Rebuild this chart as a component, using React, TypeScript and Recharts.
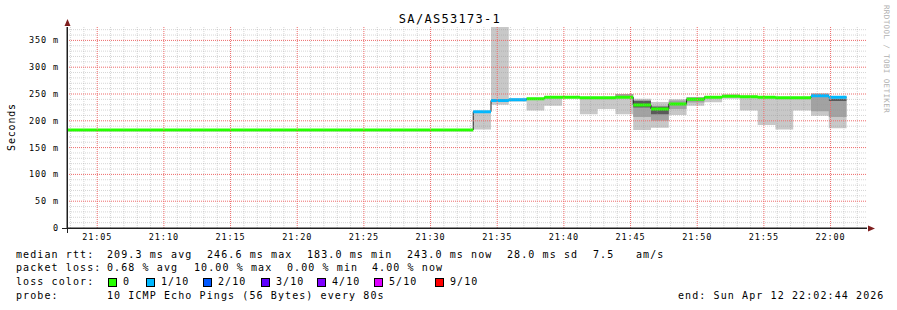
import React from "react";
import { ComposedChart, Area, Line, XAxis, YAxis, ReferenceLine } from "recharts";

// one step per 80 s probe round; first entry is the flat stretch before 21:33
const stepTimes = [
  "21:02:44", "21:33:12", "21:34:32", "21:35:52", "21:37:12", "21:38:32",
  "21:39:52", "21:41:12", "21:42:32", "21:43:52", "21:45:12", "21:46:32",
  "21:47:52", "21:49:12", "21:50:32", "21:51:52", "21:53:12", "21:54:32",
  "21:55:52", "21:57:12", "21:58:32", "21:59:52", "22:01:12",
];
const medianMs = [
  183.0, 217, 238, 239.5, 241, 244, 244, 243, 243, 244, 229.5,
  222, 231.5, 240, 244, 246, 245, 244, 243, 243, 246.6, 244,
];
const lostPings = [0, 1, 1, 1, 0, 0, 0, 0, 0, 0, 0, 0, 0, 0, 0, 0, 0, 0, 0, 0, 1, 1];
type Band = [number, number] | null;
const smokeOuter: Band[] = [
  null, [184, 217], [230, 375], [236, 242], [219, 243], [228, 246], [242, 246],
  [212, 245], [222, 245], [212, 250], [183, 241], [187, 235], [211, 240],
  [228, 244.5], [234.6, 246], [241, 249.5], [219, 247], [192, 246], [184, 245],
  [219, 245], [209.6, 251], [186, 244],
];
const smokeMid: Band[] = [
  null, null, null, null, null, null, null, null, null, [244, 250], [207, 239],
  [200, 228], [222, 238], [234, 244], null, null, null, null, null, null,
  [218, 251], [207, 237],
];
const smokeDark: Band[] = [
  null, null, null, null, null, null, null, null, null, null, [225, 237],
  [212, 226], null, null, null, null, null, null, null, null, null, [237, 241],
];

const xTickLabels = ["21:05", "21:10", "21:15", "21:20", "21:25", "21:30", "21:35", "21:40", "21:45", "21:50", "21:55", "22:00"];
const yTicks = [0, 50, 100, 150, 200, 250, 300, 350];
const lossLevels = [0, 1, 2, 3, 4, 5, 9];
const lossLabels = ["0", "1/10", "2/10", "3/10", "4/10", "5/10", "9/10"];
const lossColors = ["#26ff00", "#00b8ff", "#0059ff", "#5e00ff", "#7e00ff", "#dd00ff", "#ff0000"];

const toSec = (s: string) => {
  const [h, m, sec] = s.split(":").map(Number);
  return (h - 21) * 3600 + m * 60 + (sec || 0);
};
const fmt = (v: number) => {
  const h = 21 + Math.floor(v / 3600);
  const m = Math.floor((v % 3600) / 60);
  return `${h}:${String(m).padStart(2, "0")}`;
};

const T0 = toSec("21:02:44");
const T1 = T0 + 3600;
const xTicks = xTickLabels.map((l) => toSec(l));
const minorX: number[] = [];
for (let t = 180; t < T1; t += 60) if (t % 300) minorX.push(t);
const minorY: number[] = [];
for (let v = 10; v < 375; v += 10) if (v % 50) minorY.push(v);

const rows: any[] = [];
medianMs.forEach((m, i) => {
  const t0 = toSec(stepTimes[i]);
  const t1 = toSec(stepTimes[i + 1]);
  const base: any = { med: m, outer: smokeOuter[i], mid: smokeMid[i], dark: smokeDark[i] };
  const gap: any = { t: t1, med: m, outer: null, mid: null, dark: null };
  lossLevels.forEach((l) => {
    base["c" + l] = lostPings[i] === l ? m : null;
    gap["c" + l] = null;
  });
  rows.push({ t: t0, ...base }, { t: t1, ...base });
  if (i < medianMs.length - 1) rows.push(gap);
});

const mono = "'DejaVu Sans Mono', monospace";
const legendStyle: React.CSSProperties = {
  position: "absolute",
  fontFamily: mono,
  fontSize: 10,
  letterSpacing: 1.1,
  whiteSpace: "pre",
  color: "#000",
  lineHeight: "12px",
};

const T = ({ x, y, children }: { x: number; y: number; children: React.ReactNode }) => (
  <div style={{ ...legendStyle, left: x, top: y - 6 }}>{children}</div>
);

const rtt = [
  { x: 16, s: "median rtt:" },
  { x: 107, s: "209.3 ms avg" },
  { x: 207, s: "246.6 ms max" },
  { x: 307, s: "183.0 ms min" },
  { x: 407, s: "243.0 ms now" },
  { x: 507, s: "28.0 ms sd" },
  { x: 593, s: "7.5" },
  { x: 636, s: "am/s" },
];
const loss = [
  { x: 16, s: "packet loss:" },
  { x: 107, s: "0.68 % avg" },
  { x: 194, s: "10.00 % max" },
  { x: 287, s: "0.00 % min" },
  { x: 372, s: "4.00 % now" },
];
const swatchX = [108, 146, 203, 261, 317, 374, 435];

// grid line drawn from the coordinates the reference line hands over
const gridShape = (color: string) => (p: any) => (
  <line
    x1={p.x1}
    y1={p.y1}
    x2={p.x2}
    y2={p.y2}
    stroke={color}
    strokeWidth={1}
    strokeDasharray="1 1"
  />
);
const minorShape = gridShape("rgba(150,150,150,0.4)");
const majorShape = gridShape("#ee6a6a");

export default function App() {
  return (
    <div style={{ position: "relative", width: 897, height: 310, background: "#fff", overflow: "hidden" }}>
      <style>{"body{margin:0}"}</style>
      <div style={{ position: "absolute", left: 0, top: 0 }}>
        <ComposedChart width={897} height={310} data={rows} margin={{ top: 27, right: 30, bottom: 52, left: 7 }}>
          <XAxis
            dataKey="t"
            type="number"
            domain={[T0, T1]}
            ticks={xTicks}
            tickFormatter={fmt}
            allowDataOverflow
            tickLine={false}
            tickMargin={0}
            axisLine={{ stroke: "#1f1f1f" }}
            tick={{ fontSize: 8.5, fill: "#000", fontFamily: mono, letterSpacing: 0.9 }}
          />
          <YAxis
            type="number"
            domain={[0, 375]}
            ticks={yTicks}
            tickFormatter={(v: number) => (v === 0 ? "0" : `${v} m`)}
            allowDataOverflow
            tickLine={false}
            width={60}
            axisLine={{ stroke: "#1f1f1f" }}
            tick={{ fontSize: 8.5, fill: "#000", fontFamily: mono, letterSpacing: 0.9 }}
          />
          <Area dataKey="outer" type="linear" stroke="none" fill="#c8c8c8" fillOpacity={1} isAnimationActive={false} dot={false} activeDot={false} />
          <Area dataKey="mid" type="linear" stroke="none" fill="#a2a2a2" fillOpacity={1} isAnimationActive={false} dot={false} activeDot={false} />
          <Area dataKey="dark" type="linear" stroke="none" fill="#5a5a5a" fillOpacity={1} isAnimationActive={false} dot={false} activeDot={false} />
          <Line dataKey="med" type="linear" stroke="#202020" strokeWidth={1} dot={false} activeDot={false} isAnimationActive={false} />
          {lossLevels.map((l, i) => (
            <Line
              key={l}
              dataKey={"c" + l}
              type="linear"
              stroke={lossColors[i]}
              strokeWidth={3}
              dot={false}
              activeDot={false}
              isAnimationActive={false}
            />
          ))}
          {minorX.map((t) => (
            <ReferenceLine key={"mx" + t} x={t} shape={minorShape} />
          ))}
          {minorY.map((v) => (
            <ReferenceLine key={"my" + v} y={v} shape={minorShape} />
          ))}
          {xTicks.map((t) => (
            <ReferenceLine key={"Mx" + t} x={t} shape={majorShape} />
          ))}
          {yTicks.slice(1).map((v) => (
            <ReferenceLine key={"My" + v} y={v} shape={majorShape} />
          ))}
        </ComposedChart>
      </div>
      <svg width={897} height={310} style={{ position: "absolute", left: 0, top: 0, pointerEvents: "none" }}>
        <line x1={62} y1={228.5} x2={867} y2={228.5} stroke="#1f1f1f" />
        <line x1={67.5} y1={233} x2={67.5} y2={27} stroke="#1f1f1f" />
        <polygon points="64.5,26 70.5,26 67.5,19" fill="#7f1f1f" />
        <polygon points="868,225.5 868,231.5 875,228.5" fill="#7f1f1f" />
      </svg>
      <div
        style={{
          position: "absolute",
          left: 0,
          width: 900,
          top: 12,
          textAlign: "center",
          fontFamily: mono,
          fontSize: 12,
          letterSpacing: 1.3,
          lineHeight: "14px",
        }}
      >
        SA/AS53173-1
      </div>
      <div
        style={{
          position: "absolute",
          left: 11,
          top: 127,
          transform: "translate(-50%, -50%) rotate(-90deg)",
          fontFamily: mono,
          fontSize: 10,
          letterSpacing: 0.8,
          whiteSpace: "pre",
        }}
      >
        Seconds
      </div>
      <div
        style={{
          position: "absolute",
          left: 886,
          top: 59,
          transform: "translate(-50%, -50%) rotate(90deg)",
          fontFamily: mono,
          fontSize: 7.5,
          letterSpacing: 0.4,
          color: "#b0b0b0",
          whiteSpace: "pre",
        }}
      >
        RRDTOOL / TOBI OETIKER
      </div>
      {rtt.map((r) => (
        <T key={r.s} x={r.x} y={255}>{r.s}</T>
      ))}
      {loss.map((r) => (
        <T key={r.s} x={r.x} y={268}>{r.s}</T>
      ))}
      <T x={16} y={282}>loss color:</T>
      {lossLabels.map((l, i) => (
        <React.Fragment key={l}>
          <div
            style={{
              position: "absolute",
              left: swatchX[i],
              top: 278,
              width: 7,
              height: 7,
              background: lossColors[i],
              border: "1px solid #000",
            }}
          />
          <T x={swatchX[i] + 15} y={282}>{l}</T>
        </React.Fragment>
      ))}
      <T x={16} y={296}>probe:</T>
      <T x={107} y={296}>10 ICMP Echo Pings (56 Bytes) every 80s</T>
      <T x={678} y={296}>end: Sun Apr 12 22:02:44 2026</T>
    </div>
  );
}
